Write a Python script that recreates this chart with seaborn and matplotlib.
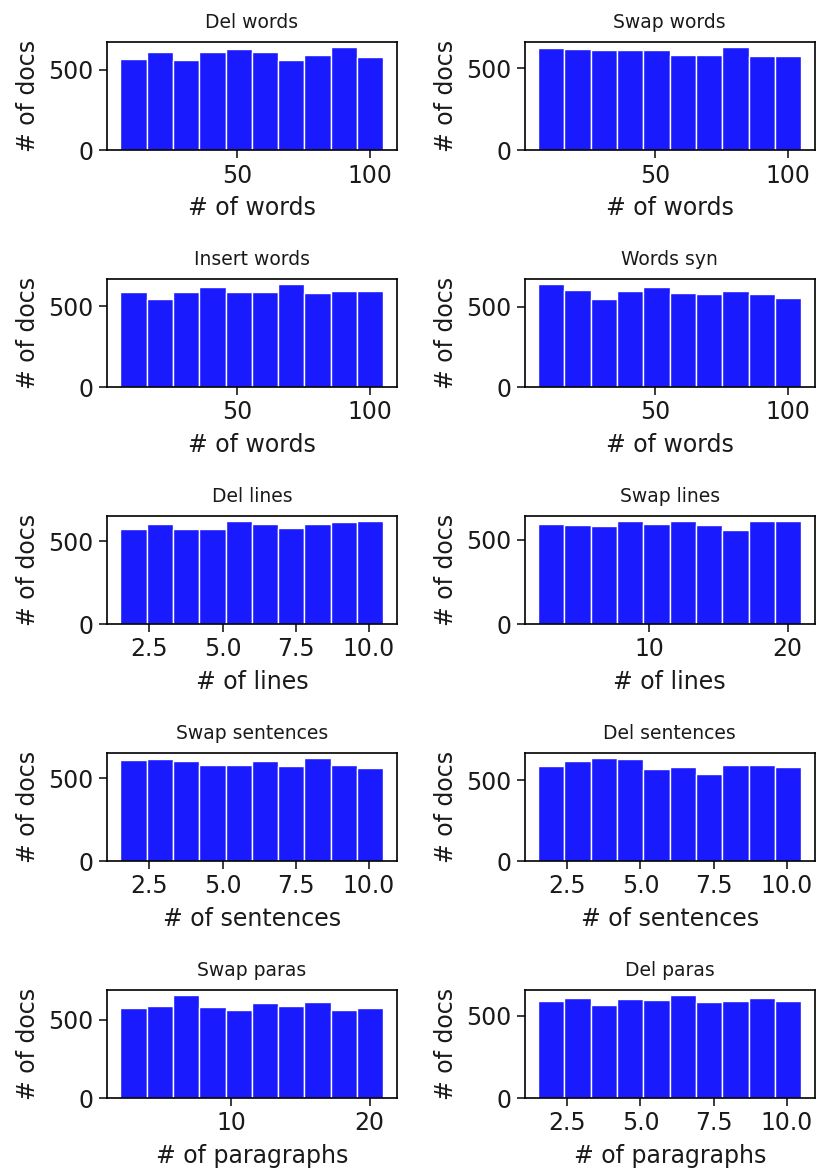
import numpy as np
import pandas as pd
import matplotlib
matplotlib.use("Agg")
import matplotlib.pyplot as plt
from matplotlib.ticker import MultipleLocator
import seaborn as sns

sns.set_style("ticks")
plt.rcParams['font.family'] = ['DejaVu Sans']

# ---- data (bin counts) ----
titles = ["Del words", "Swap words", "Insert words", "Words syn", "Del lines",
          "Swap lines", "Swap sentences", "Del sentences", "Swap paras", "Del paras"]
xlabels = ["# of words", "# of words", "# of words", "# of words", "# of lines",
           "# of lines", "# of sentences", "# of sentences", "# of paragraphs", "# of paragraphs"]
del_words = [567, 609, 559, 611, 630, 609, 563, 595, 641, 580]
swap_words = [621, 615, 613, 609, 609, 584, 582, 628, 574, 574]
insert_words = [590, 544, 590, 615, 585, 585, 635, 579, 592, 592]
words_syn = [641, 603, 550, 597, 626, 584, 578, 601, 580, 557]
del_lines = [571, 600, 573, 571, 620, 600, 579, 600, 612, 620]
swap_lines = [596, 586, 584, 610, 592, 608, 586, 558, 608, 608]
swap_sentences = [610, 616, 602, 580, 580, 602, 576, 622, 582, 563]
del_sentences = [590, 617, 638, 632, 573, 584, 542, 596, 596, 582]
swap_paras = [576, 589, 658, 584, 565, 606, 589, 613, 565, 576]
del_paras = [588, 607, 566, 601, 597, 626, 582, 588, 605, 591]
counts = [del_words, swap_words, insert_words, words_syn, del_lines,
          swap_lines, swap_sentences, del_sentences, swap_paras, del_paras]
# (min, max) of the binned range for each panel
ranges = [(6, 105), (6, 105), (6, 105), (6, 105), (1.5, 10.5),
          (2, 21), (1.5, 10.5), (1.5, 10.5), (2, 21), (1.5, 10.5)]
xtick_step = [50, 50, 50, 50, 2.5, 10, 2.5, 2.5, 10, 2.5]

fig, axes = plt.subplots(5, 2, figsize=(8.17, 11.71), dpi=100)
fig.subplots_adjust(left=0.131, right=0.997, top=0.964, bottom=0.0623,
                    wspace=0.443, hspace=1.19)

for ax, title, xl, c, r, step in zip(axes.flat, titles, xlabels, counts, ranges, xtick_step):
    edges = np.linspace(r[0], r[1], len(c) + 1)
    centers = (edges[:-1] + edges[1:]) / 2
    df = pd.DataFrame({"x": centers, "w": c})
    sns.histplot(data=df, x="x", weights="w", bins=edges.tolist(), ax=ax,
                 color="#1a1aff", alpha=1.0, edgecolor="white", linewidth=1.0)
    ax.set_title(title, fontsize=13.5, pad=10, color="#1a1a1a")
    ax.set_xlabel(xl, fontsize=17, color="#1a1a1a", labelpad=6)
    ax.set_ylabel("# of docs", fontsize=17, color="#1a1a1a", labelpad=6)
    ax.yaxis.set_major_locator(MultipleLocator(500))
    ax.xaxis.set_major_locator(MultipleLocator(step))
    ax.tick_params(labelsize=17, length=6, width=1.2, colors="#1a1a1a")
    for s in ax.spines.values():
        s.set_visible(True)
        s.set_linewidth(1.2)
        s.set_color("black")

fig.savefig("out.png", dpi=100)
